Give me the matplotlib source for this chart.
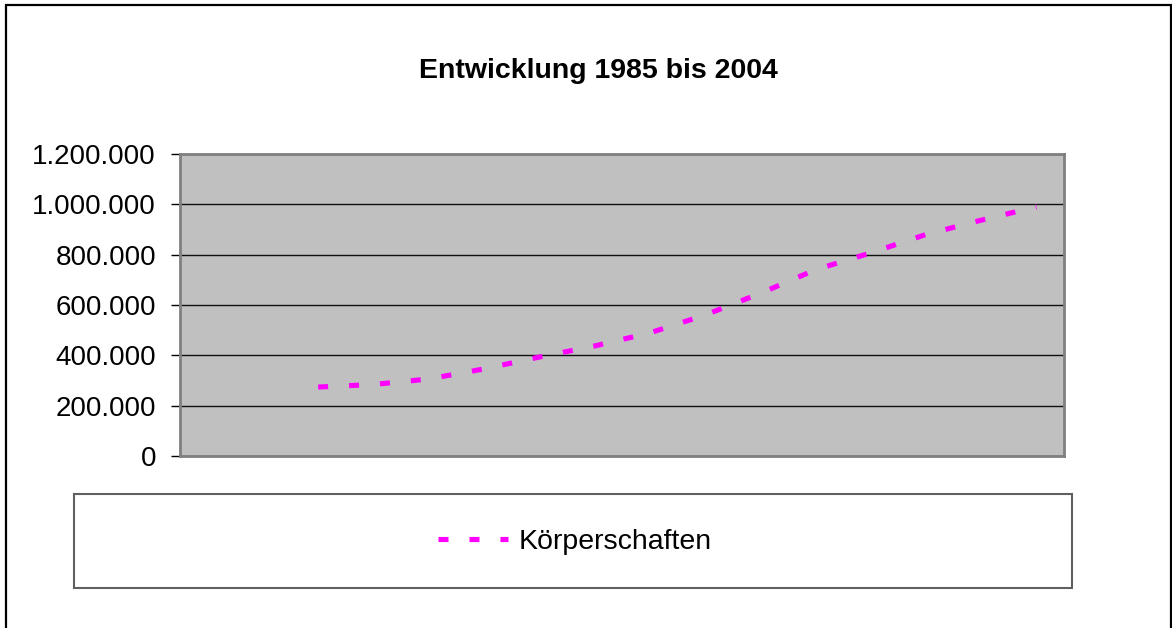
import matplotlib
matplotlib.use("Agg")
import matplotlib.pyplot as plt
from matplotlib.patches import Rectangle
from matplotlib.lines import Line2D
from matplotlib.ticker import FuncFormatter

# ---- data ----
categories = ["1985", "1990", "1991", "1992", "1993", "1994", "1995", "1996",
              "1997", "1998", "1999", "2000", "2001", "2002", "2003", "2004"]
koerperschaften = [None, None, 274000, 284000, 306000, 346000, 393000, 437000,
                   489000, 560000, 646000, 740000, 807000, 880000, 937000, 990000]
series_name = "Körperschaften"
title = "Entwicklung 1985 bis 2004"
y_ticks = [0, 200000, 400000, 600000, 800000, 1000000, 1200000]

plt.rcParams['font.family'] = ['Liberation Sans', 'DejaVu Sans']
plt.rcParams['lines.scale_dashes'] = False

W, H = 1172, 628
fig = plt.figure(figsize=(W / 100, H / 100), dpi=100)
fig.patch.set_facecolor("white")

# outer border
fig.patches.append(Rectangle((6 / W, -0.02), (1171 - 6) / W, 1 - 5 / H + 0.02,
                             transform=fig.transFigure, fill=False,
                             edgecolor="black", linewidth=1.6, zorder=0))

ax = fig.add_axes([180 / W, 1 - 456 / H, (1064 - 180) / W, (456 - 154) / H])
ax.set_facecolor("#C0C0C0")

xs = [i for i, v in enumerate(koerperschaften) if v is not None]
ys = [v for v in koerperschaften if v is not None]
magenta = "#FF00FF"
dash = (0, (7.2, 15.1))
ax.plot(xs, ys, color=magenta, linewidth=3.7, linestyle=dash,
        solid_capstyle="butt", dash_capstyle="butt", zorder=3)

ax.set_xlim(-0.5, len(categories) - 0.5)
ax.set_ylim(0, 1200000)
ax.set_yticks(y_ticks)
ax.yaxis.set_major_formatter(FuncFormatter(lambda v, p: f"{v:,.0f}".replace(",", ".")))
ax.set_xticks([])
ax.grid(axis="y", color="#101010", linewidth=1.0, zorder=1)
ax.set_axisbelow(True)
ax.tick_params(axis="y", length=6.5, width=1, color="black", pad=10.8,
               labelsize=20, labelcolor="black")
for s in ax.spines.values():
    s.set_color("#808080")
    s.set_linewidth(2)

fig.text(598 / W, 1 - 71 / H, title, ha="center", va="center",
         fontsize=20.5, fontweight="bold", color="black")

# legend box
fig.patches.append(Rectangle((74 / W, 1 - 588 / H), (1072 - 74) / W, (588 - 494) / H,
                             transform=fig.transFigure, fill=True, facecolor="white",
                             edgecolor="#606060", linewidth=1.5, zorder=1))
handle = Line2D([], [], color=magenta, linewidth=3.7, linestyle=dash,
                dash_capstyle="butt")
leg = fig.legend([handle], [series_name], loc="center",
                 bbox_to_anchor=(575 / W, 1 - 542 / H), frameon=False,
                 fontsize=20.5, handlelength=2.45, handletextpad=0.4,
                 borderpad=0, borderaxespad=0)

fig.savefig("out.png", dpi=100, facecolor="white")
